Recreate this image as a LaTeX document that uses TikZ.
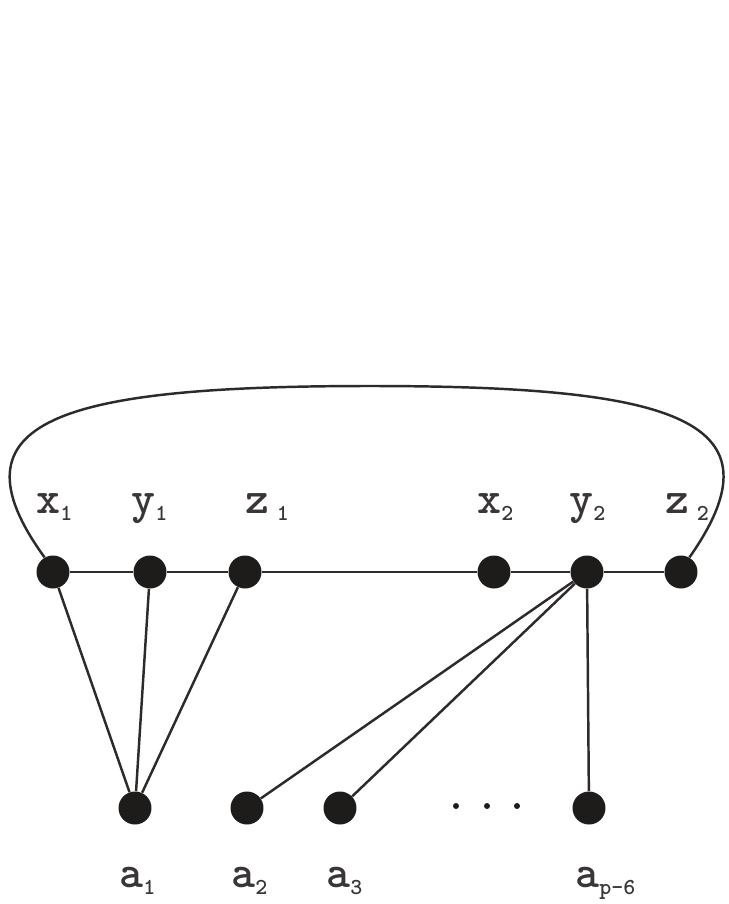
\documentclass[tikz,border=0pt]{standalone}
\usepackage{fontspec}
\definecolor{ink}{HTML}{1E1B1B}
\definecolor{edgeink}{HTML}{2E2A2A}
\definecolor{labink}{HTML}{3A3636}
\newcommand{\lsub}[1]{\raisebox{-4.4pt}{\fontsize{13}{14}\selectfont #1}}
\begin{document}
\begin{tikzpicture}[x=0.02cm,y=-0.02cm,
  vtx/.style={circle,fill=ink,draw=none,minimum size=0.66cm,inner sep=0pt},
  edge/.style={draw=edgeink,line width=1.4pt},
  lab/.style={font=\fontsize{26}{28}\selectfont\ttfamily\bfseries,text=labink,inner sep=0pt,anchor=base west},
  dotn/.style={circle,fill=ink,draw=none,minimum size=0.12cm,inner sep=0pt}]
\useasboundingbox[fill=white] (0,0) rectangle (728,904);
% top vertices
\node[vtx] (x1) at (53,572) {};
\node[vtx] (y1) at (150,572) {};
\node[vtx] (z1) at (245,572) {};
\node[vtx] (x2) at (494,572) {};
\node[vtx] (y2) at (587,572) {};
\node[vtx] (z2) at (681,572) {};
% bottom vertices
\node[vtx] (a1) at (135,808) {};
\node[vtx] (a2) at (247,808) {};
\node[vtx] (a3) at (340,808) {};
\node[vtx] (ap) at (589,808) {};
% ellipsis dots
\node[dotn] (d1) at (456,806) {};
\node[dotn] (d2) at (487,806) {};
\node[dotn] (d3) at (517,806) {};
% labels
\node[lab] (lx1) at (36,513) {x\lsub{1}};
\node[lab] (ly1) at (131,513) {y\lsub{1}};
\node[lab] (lz1) at (245,513) {z\,\lsub{1}};
\node[lab] (lx2) at (477,513) {x\lsub{2}};
\node[lab] (ly2) at (569,513) {y\lsub{2}};
\node[lab] (lz2) at (665,513) {z\,\lsub{2}};
\node[lab] (la1) at (119,887) {a\lsub{1}};
\node[lab] (la2) at (231,887) {a\lsub{2}};
\node[lab] (la3) at (326,887) {a\lsub{3}};
\node[lab] (lap) at (575,887) {a\lsub{p-6}};
% edges
\draw[edge] (x1) -- (y1);
\draw[edge] (y1) -- (z1);
\draw[edge] (z1) -- (x2);
\draw[edge] (x2) -- (y2);
\draw[edge] (y2) -- (z2);
\draw[edge] (x1) -- (a1);
\draw[edge] (y1) -- (a1);
\draw[edge] (z1) -- (a1);
\draw[edge] (y2) -- (a2);
\draw[edge] (y2) -- (a3);
\draw[edge] (y2) -- (ap);
% big arc
\coordinate (top) at (370,386);
\draw[edge] (x1.120) .. controls (-55,420) and (60,386) .. (top)
            .. controls (677,386) and (786,420) .. (z2.60);
\end{tikzpicture}
\end{document}
